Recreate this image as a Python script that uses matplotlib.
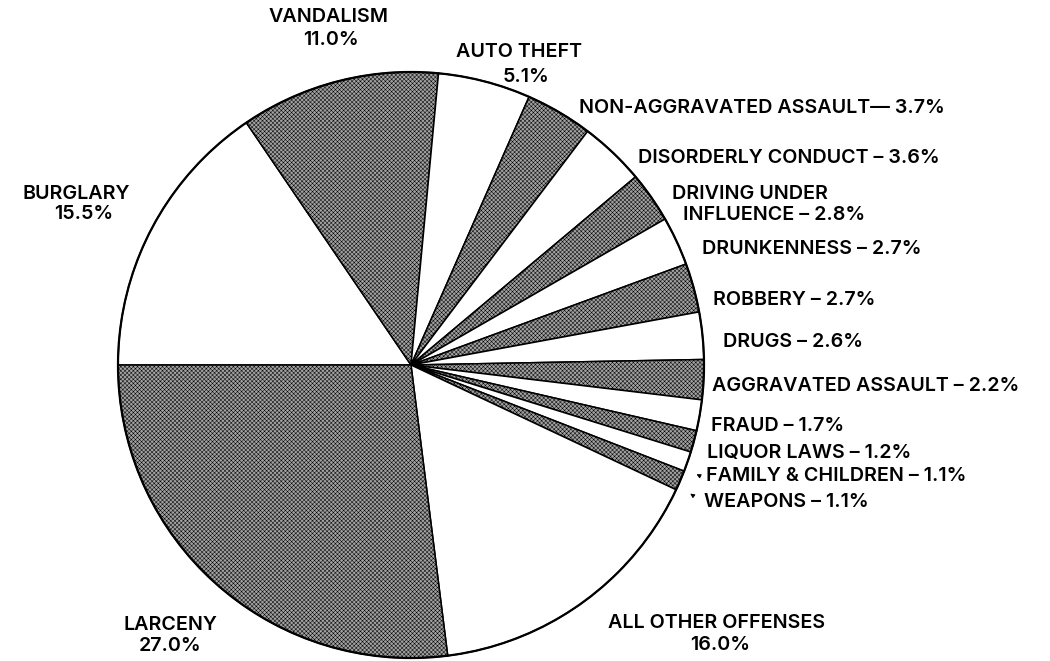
import matplotlib
matplotlib.use("Agg")
import matplotlib.pyplot as plt
from matplotlib.patches import Circle

# Offenses in clockwise order, starting at the 9 o'clock position
offenses = ["BURGLARY", "VANDALISM", "AUTO THEFT", "NON-AGGRAVATED ASSAULT",
            "DISORDERLY CONDUCT", "DRIVING UNDER INFLUENCE", "DRUNKENNESS",
            "ROBBERY", "DRUGS", "AGGRAVATED ASSAULT", "FRAUD", "LIQUOR LAWS",
            "FAMILY & CHILDREN", "WEAPONS", "ALL OTHER OFFENSES", "LARCENY"]
shares = [15.5, 11.0, 5.1, 3.7, 3.6, 2.8, 2.7, 2.7, 2.6, 2.2, 1.7, 1.2,
          1.1, 1.1, 16.0, 27.0]

W, H = 1050, 661
plt.rcParams['font.family'] = ['Inter', 'DejaVu Sans']
plt.rcParams['font.weight'] = 'semibold'
plt.rcParams['hatch.linewidth'] = 0.35

fig = plt.figure(figsize=(W / 100, H / 100), dpi=100)
ax = fig.add_axes([0, 0, 1, 1])


def py(y):
    # pixel row (from top) -> data y
    return H - y


# alternate stippled / white slices
colors = ['white' if i % 2 == 0 else '#a2a2a2' for i in range(len(shares))]
wedges, _ = ax.pie(shares, startangle=180, counterclock=False,
                   center=(411, py(365)), radius=293, colors=colors,
                   wedgeprops=dict(edgecolor='black', linewidth=1.1),
                   frame=True)
for i, w in enumerate(wedges):
    if i % 2 == 1:
        w.set_hatch('xxxxxxxx')
ax.add_patch(Circle((411, py(365)), 293, fill=False, edgecolor='black',
                    linewidth=1.6))
ax.set_xlim(0, W)
ax.set_ylim(0, H)
ax.set_aspect('equal')
ax.axis('off')

fs = 14.2
pct = {name: f"{s:.1f}%" for name, s in zip(offenses, shares)}

# two-line labels: name above, percent below (centered)
two_line = {
    "BURGLARY": ((76, 194), (84, 214)),
    "VANDALISM": ((329, 17), (331, 40)),
    "AUTO THEFT": ((519, 52), (526, 77)),
    "ALL OTHER OFFENSES": ((717, 623), (720, 645)),
    "LARCENY": ((170, 625), (170, 646)),
}
for name, ((x1, y1), (x2, y2)) in two_line.items():
    ax.text(x1, py(y1), name, ha='center', va='center', fontsize=fs)
    ax.text(x2, py(y2), pct[name], ha='center', va='center', fontsize=fs)

# single-line labels on the right (left aligned)
inline = {
    "NON-AGGRAVATED ASSAULT": (579, 108),
    "DISORDERLY CONDUCT": (638, 158),
    "DRUNKENNESS": (702, 249),
    "ROBBERY": (713, 300),
    "DRUGS": (723, 342),
    "AGGRAVATED ASSAULT": (712, 386),
    "FRAUD": (711, 426),
    "LIQUOR LAWS": (707, 453),
    "FAMILY & CHILDREN": (706, 476),
    "WEAPONS": (704, 502),
}
for name, (x, y) in inline.items():
    sep = "\u2014 " if name == "NON-AGGRAVATED ASSAULT" else " \u2013 "
    ax.text(x, py(y), name + sep + pct[name], ha='left', va='center',
            fontsize=fs)

ax.text(672, py(194), "DRIVING UNDER", ha='left', va='center', fontsize=fs)
ax.text(683, py(215), "INFLUENCE \u2013 " + pct["DRIVING UNDER INFLUENCE"],
        ha='left', va='center', fontsize=fs)

# small arrows for the two thinnest slices
arrow = dict(arrowstyle='-|>', lw=0.7, color='black', mutation_scale=6)
ax.annotate("", xy=(694, py(473)), xytext=(702, py(477)), arrowprops=arrow)
ax.annotate("", xy=(688, py(492)), xytext=(695, py(497)), arrowprops=arrow)

fig.savefig("out.png", dpi=100, facecolor='white')
